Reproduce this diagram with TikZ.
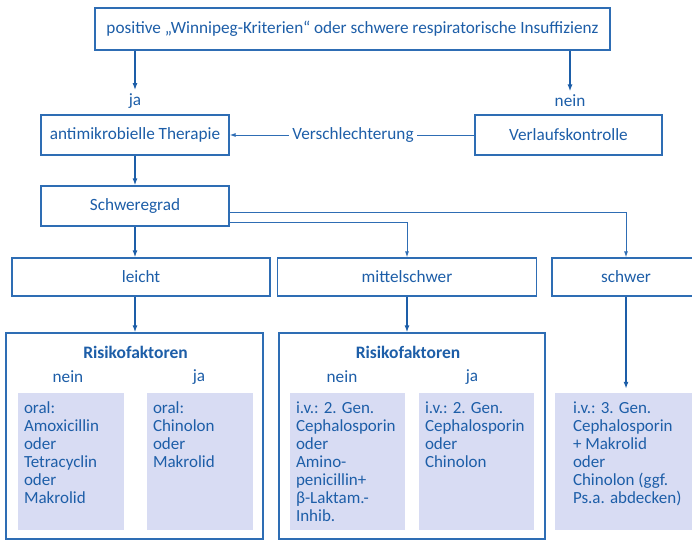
\documentclass[tikz,border=0pt]{standalone}
\usepackage{fontspec}
\setmainfont{Carlito}
\usetikzlibrary{arrows.meta,positioning}
\definecolor{blau}{HTML}{1D5EA8}
\definecolor{rahmen}{HTML}{2E6DB4}
\definecolor{lila}{HTML}{D8DCF3}
\tikzset{
  kasten/.style={draw=rahmen,line width=1.2pt,fill=white,text=blau,
                 font=\fontsize{17.2}{20}\selectfont,inner sep=0pt},
  pfeil/.style={-{Latex[length=7pt,width=5pt]},line width=1.6pt,color=blau},
}

\begin{document}
\begin{tikzpicture}[x=1pt,y=-1pt,
  feld/.style={fill=lila,inner sep=0pt,minimum height=137pt},
  inhalt/.style={anchor=north west,align=left,text=blau,inner sep=0pt,
                 font=\fontsize{17}{18}\selectfont},
  marke/.style={text=blau,font=\fontsize{17.2}{20}\selectfont},
  titel/.style={text=blau,font=\bfseries\fontsize{17.5}{20}\selectfont},
  duenn/.style={line width=1pt,color=rahmen}]
  \useasboundingbox (0,0) rectangle (692,541);
  % Frage und Verzweigung
  \node[kasten,minimum width=515pt,minimum height=42pt] (frage) at (352.5,29)
    {positive „Winnipeg-Kriterien“ oder schwere respiratorische Insuffizienz};
  \node[marke] (ja) at (135,101) {ja};
  \node[marke] (nein) at (570,101) {nein};
  \node[kasten,minimum width=188pt,minimum height=40pt] (therapie) at (135,135) {antimikrobielle Therapie};
  \node[kasten,minimum width=187pt,minimum height=40pt] (verlauf) at (568.5,135) {Verlaufskontrolle};
  \node[marke] (schlechter) at (353,135) {Verschlechterung};
  \node[kasten,minimum width=188pt,minimum height=40pt] (grad) at (135,206) {Schweregrad};
  % Schweregrade
  \node[kasten,minimum width=258pt,minimum height=38pt] (leicht) at (141,277) {leicht};
  \node[kasten,minimum width=259pt,minimum height=38pt] (mittel) at (407,277) {mittelschwer};
  \node[kasten,minimum width=148pt,minimum height=38pt] (schwer) at (626,277) {schwer};
  % Risikofaktoren
  \node[kasten,minimum width=257pt,minimum height=206pt] (risikoL) at (134.5,436) {};
  \node[kasten,minimum width=266pt,minimum height=206pt] (risikoM) at (412,436) {};
  \node[titel] at (135.5,352) {Risikofaktoren};
  \node[titel] at (408,352) {Risikofaktoren};
  \foreach \t/\x in {nein/68,ja/199,nein/342,ja/472}
    \node[marke] at (\x,377) {\t};
  \foreach \n/\x/\w in {f1/71/106,f2/200/106,f3/347.5/115,f4/476.5/115,f5/627.5/145}
    \node[feld,minimum width=\w pt] (\n) at (\x,461.5) {};
  \node[inhalt] at ([shift={(6,9)}]f1.north west) {oral:\\Amoxicillin\\oder\\Tetracyclin\\oder\\Makrolid};
  \node[inhalt] at ([shift={(6,9)}]f2.north west) {oral:\\Chinolon\\oder\\Makrolid};
  \node[inhalt] at ([shift={(6,9)}]f3.north west) {i.v.: 2. Gen.\\Cephalosporin\\oder\\Amino-\\penicillin+\\β-Laktam.-\\Inhib.};
  \node[inhalt] at ([shift={(6,9)}]f4.north west) {i.v.: 2. Gen.\\Cephalosporin\\oder\\Chinolon};
  \node[inhalt] at ([shift={(18,9)}]f5.north west) {i.v.: 3. Gen.\\Cephalosporin\\+ Makrolid\\oder\\Chinolon (ggf.\\Ps.a. abdecken)};
  % Verbindungen
  \draw[pfeil] (frage.south -| ja) -- (ja.north);
  \draw[pfeil] (frage.south -| nein) -- (nein.north);
  \draw[duenn] (verlauf.west) -- (schlechter.east);
  \draw[duenn,-{Latex[length=6pt,width=4pt]}] (schlechter.west) -- (therapie.east);
  \draw[pfeil] (therapie) -- (grad);
  \draw[pfeil] (grad.south) -- (grad.south |- leicht.north);
  \draw[duenn,-{Latex[length=6pt,width=4pt]}] ([yshift=-16pt]grad.east) -| (mittel.north);
  \draw[duenn,-{Latex[length=6pt,width=4pt]}] ([yshift=-6pt]grad.east) -| (schwer.north);
  \draw[pfeil] (leicht.south -| grad.south) -- (risikoL.north -| grad.south);
  \draw[pfeil] (mittel.south) -- (mittel.south |- risikoM.north);
  \draw[pfeil,shorten >=4pt] (schwer.south) -- (schwer.south |- f5.north);
\end{tikzpicture}
\end{document}
